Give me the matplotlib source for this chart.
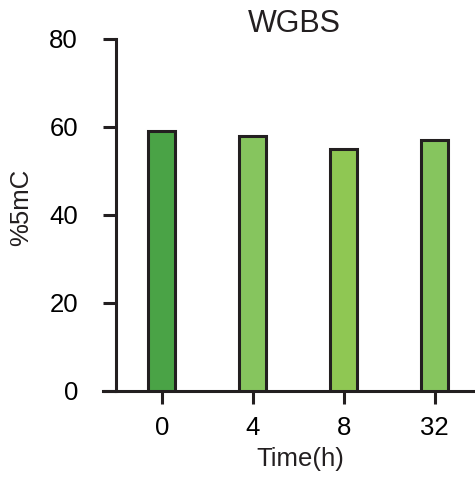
import numpy as np
import matplotlib
matplotlib.use("Agg")
import matplotlib.pyplot as plt

plt.rcParams['font.family'] = ['Liberation Sans', 'DejaVu Sans']

times = ["0", "4", "8", "32"]
mc5 = [59, 58, 55, 57]
colors = ["#4aa346", "#86c55e", "#8fc753", "#86c55e"]
yticks = [0, 20, 40, 60, 80]

fig = plt.figure(figsize=(4.75, 4.82), dpi=100)
ax = fig.add_axes([103 / 475, 91 / 482, 370 / 475, 352 / 482])

x = np.arange(len(times))
ax.bar(x, mc5, width=0.3, color=colors, edgecolor="#231f20", linewidth=2.2, zorder=3)

ax.set_xlim(-0.645, 3.42)
ax.set_ylim(0, 80)
ax.spines['left'].set_position(('data', -0.502))
ax.spines['top'].set_visible(False)
ax.spines['right'].set_visible(False)
for s in ['left', 'bottom']:
    ax.spines[s].set_linewidth(2.2)
    ax.spines[s].set_color("#231f20")

ax.set_xticks(x)
ax.set_xticklabels(times)
ax.set_yticks(yticks)
ax.tick_params(axis='y', length=9.4, width=2.2, color="#231f20", pad=18, labelsize=18.5)
ax.tick_params(axis='x', length=9, width=2.2, color="#231f20", pad=9, labelsize=18.5)

ax.set_ylabel("%5mC", fontsize=18.5, color="#231f20")
ax.yaxis.set_label_coords(-0.189, 0.523)
ax.set_xlabel("Time(h)", fontsize=18.5, color="#231f20")
ax.xaxis.set_label_coords(0.532, -0.16)
fig.text(294 / 475, 1 - 32 / 482, "WGBS", fontsize=22, ha='center', va='baseline', color="#231f20")

fig.savefig("out.png", dpi=100)
